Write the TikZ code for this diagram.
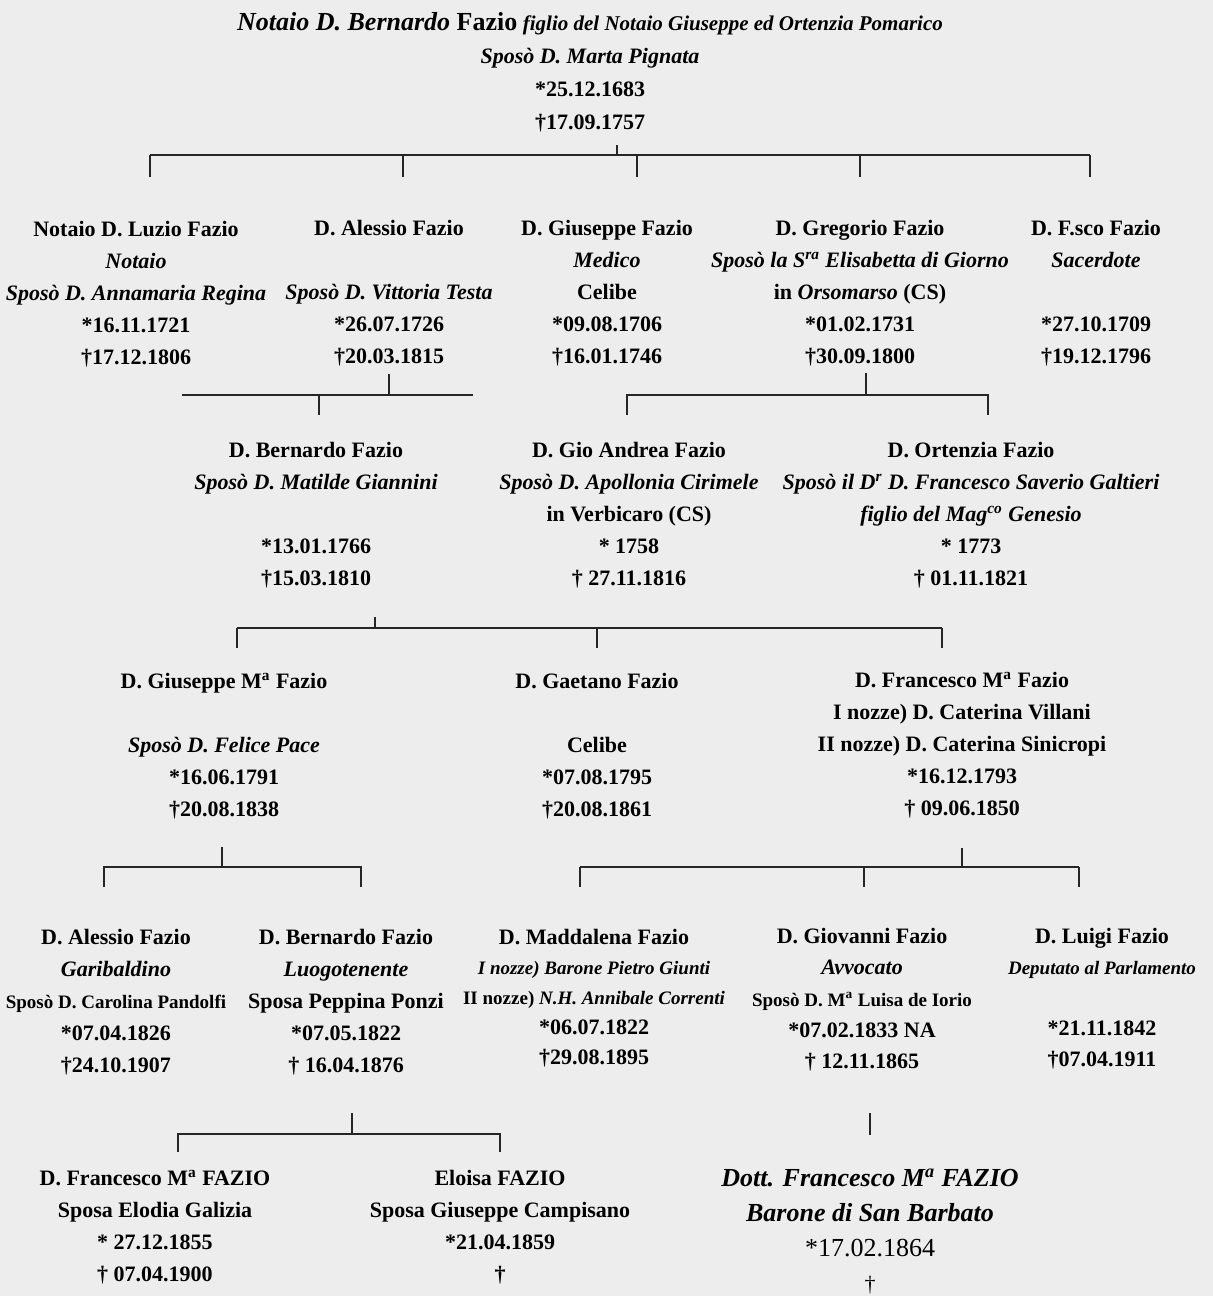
\documentclass[tikz,border=0pt]{standalone}
\usepackage{fontspec}
\setmainfont{Liberation Serif}
\newcommand{\petit}[1]{{\fontsize{9.5}{16}\selectfont #1}}

\begin{document}
\begin{tikzpicture}[
  x=0.5pt, y=-0.5pt,
  person/.style={align=center, anchor=north, inner sep=0pt,
                 font=\bfseries\fontsize{11}{16}\selectfont},
  title/.style={person, font=\bfseries\fontsize{11}{16.5}\selectfont},
  baron/.style={person, font=\bfseries\fontsize{13}{17.4}\selectfont},
  link/.style={draw=black!85, line width=1pt},
]
\useasboundingbox (0,0) rectangle (1213,1296);
\fill[black!7] (0,0) rectangle (1213,1296);

\node[title] (root) at (590,12)
  {{\fontsize{13}{16.5}\selectfont\textit{Notaio D. Bernardo} Fazio}
   {\fontsize{10.5}{16.5}\selectfont\textit{figlio del Notaio Giuseppe ed Ortenzia Pomarico}}\\
   \textit{Sposò D. Marta Pignata}\\ *25.12.1683\\ †17.09.1757};

\node[person] (luzio) at (136,221)
  {Notaio D. Luzio Fazio\\ \textit{Notaio}\\ \textit{Sposò D. Annamaria Regina}\\ *16.11.1721\\ †17.12.1806};
\node[person] (alessio) at (389,220)
  {D. Alessio Fazio\\ ~\\ \textit{Sposò D. Vittoria Testa}\\ *26.07.1726\\ †20.03.1815};
\node[person] (giuseppe) at (607,220)
  {D. Giuseppe Fazio\\ \textit{Medico}\\ Celibe\\ *09.08.1706\\ †16.01.1746};
\node[person] (gregorio) at (860,220)
  {D. Gregorio Fazio\\ \textit{Sposò la S\textsuperscript{ra} Elisabetta di Giorno}\\ in \textit{Orsomarso} (CS)\\ *01.02.1731\\ †30.09.1800};
\node[person] (fsco) at (1096,220)
  {D. F.sco Fazio\\ \textit{Sacerdote}\\ ~\\ *27.10.1709\\ †19.12.1796};

\node[person] (bernardo) at (316,442)
  {D. Bernardo Fazio\\ \textit{Sposò D. Matilde Giannini}\\ ~\\ *13.01.1766\\ †15.03.1810};
\node[person] (gioandrea) at (629,442)
  {D. Gio Andrea Fazio\\ \textit{Sposò D. Apollonia Cirimele}\\ in Verbicaro (CS)\\ * 1758\\ † 27.11.1816};
\node[person] (ortenzia) at (971,442)
  {D. Ortenzia Fazio\\ \textit{Sposò il D\textsuperscript{r} D. Francesco Saverio Galtieri}\\ \textit{figlio del Mag\textsuperscript{co} Genesio}\\ * 1773\\ † 01.11.1821};

\node[person] (giuseppema) at (224,673)
  {D. Giuseppe M\textsuperscript{a} Fazio\\ ~\\ \textit{Sposò D. Felice Pace}\\ *16.06.1791\\ †20.08.1838};
\node[person] (gaetano) at (597,673)
  {D. Gaetano Fazio\\ ~\\ Celibe\\ *07.08.1795\\ †20.08.1861};
\node[person] (francescoma) at (962,672)
  {D. Francesco M\textsuperscript{a} Fazio\\ I nozze) D. Caterina Villani\\ II nozze) D. Caterina Sinicropi\\ *16.12.1793\\ † 09.06.1850};

\node[person] (alessiog) at (116,929)
  {D. Alessio Fazio\\ \textit{Garibaldino}\\ \petit{Sposò D. Carolina Pandolfi}\\ *07.04.1826\\ †24.10.1907};
\node[person] (bernardog) at (346,929)
  {D. Bernardo Fazio\\ \textit{Luogotenente}\\ Sposa Peppina Ponzi\\ *07.05.1822\\ † 16.04.1876};
\node[person, font=\bfseries\fontsize{11}{15}\selectfont] (maddalena) at (594,929)
  {D. Maddalena Fazio\\ \petit{\textit{I nozze) Barone Pietro Giunti}}\\ \petit{II nozze) \textit{N.H. Annibale Correnti}}\\ *06.07.1822\\ †29.08.1895};
\node[person, font=\bfseries\fontsize{11}{15.6}\selectfont] (giovanni) at (862,928)
  {D. Giovanni Fazio\\ \textit{Avvocato}\\ \petit{Sposò D. M\textsuperscript{a} Luisa de Iorio}\\ *07.02.1833 NA\\ † 12.11.1865};
\node[person, font=\bfseries\fontsize{11}{15.3}\selectfont] (luigi) at (1102,928)
  {D. Luigi Fazio\\ \petit{\textit{Deputato al Parlamento}}\\ ~\\ *21.11.1842\\ †07.04.1911};

\node[person] (francescof) at (155,1170)
  {D. Francesco M\textsuperscript{a} FAZIO\\ Sposa Elodia Galizia\\ * 27.12.1855\\ † 07.04.1900};
\node[person] (eloisa) at (500,1170)
  {Eloisa FAZIO\\ Sposa Giuseppe Campisano\\ *21.04.1859\\ †};
\node[baron] (barone) at (870,1169)
  {\textit{Dott. Francesco M\textsuperscript{a} FAZIO}\\ \textit{Barone di San Barbato}\\ \mdseries *17.02.1864\\ \mdseries\fontsize{11}{17.4}\selectfont †};

\draw[link] (617,145) -- (617,155);
\draw[link] (150,155) -- (1090,155);
\foreach \x in {150,403,637,860,1090}
  \draw[link] (\x,155) -- ++(0,22);

\draw[link] (389,374) -- (389,395);
\draw[link] (182,395) -- (473,395);
\draw[link] (319,395) -- ++(0,20);

\draw[link] (866,373) -- (866,395);
\draw[link] (627,415) |- (988,395) -- ++(0,20);

\draw[link] (375,617) -- (375,628);
\draw[link] (237,628) -- (942,628);
\foreach \x in {237,597,942}
  \draw[link] (\x,628) -- ++(0,20);

\draw[link] (222,847) -- (222,867);
\draw[link] (104,887) |- (361,867) -- ++(0,20);

\draw[link] (962,848) -- (962,867);
\draw[link] (580,867) -- (1079,867);
\foreach \x in {580,864,1079}
  \draw[link] (\x,867) -- ++(0,20);

\draw[link] (352,1113) -- (352,1134);
\draw[link] (178,1152) |- (500,1134) -- ++(0,18);

\draw[link] (870,1113) -- (870,1135);
\end{tikzpicture}
\end{document}
